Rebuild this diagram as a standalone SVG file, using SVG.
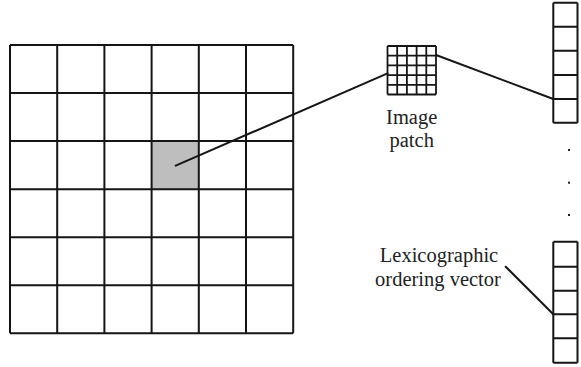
<svg xmlns="http://www.w3.org/2000/svg" width="581" height="367" viewBox="0 0 581 367">
  <style>
    .grid { fill: none; stroke: #151515; stroke-width: 2; }
    .fine { fill: none; stroke: #151515; stroke-width: 1.8; }
    .link { fill: none; stroke: #151515; stroke-width: 2; stroke-linecap: round; }
    .label { font-family: "Liberation Serif", "Times New Roman", serif; font-size: 20.5px; fill: #222; text-anchor: middle; }
    .dot { fill: #222; }
  </style>
  <rect width="581" height="367" fill="#ffffff"/>

  <!-- Full image: 6 x 6 grid with one highlighted pixel block -->
  <g id="image">
    <rect x="151.6" y="141.1" width="47.2" height="48.05" fill="#bebebe"/>
    <path class="grid" d="M10 45V333.3M57.2 45V333.3M104.4 45V333.3M151.6 45V333.3M198.8 45V333.3M246 45V333.3M293.2 45V333.3
      M10 45H293.2M10 93.05H293.2M10 141.1H293.2M10 189.15H293.2M10 237.2H293.2M10 285.25H293.2M10 333.3H293.2"/>
  </g>

  <!-- Patch: 5 x 5 grid -->
  <g id="patch">
    <path class="fine" d="M387.5 46V94.5M397.2 46V94.5M406.9 46V94.5M416.6 46V94.5M426.3 46V94.5M436 46V94.5
      M387.5 46H436M387.5 55.7H436M387.5 65.4H436M387.5 75.1H436M387.5 84.8H436M387.5 94.5H436"/>
    <text class="label" x="411.7" y="124">Image</text>
    <text class="label" x="411.7" y="147">patch</text>
  </g>

  <!-- Top part of the column vector -->
  <g id="vector-top">
    <path class="grid" d="M553.3 2.7V122.7M577.5 2.7V122.7
      M553.3 2.7H577.5M553.3 26.7H577.5M553.3 50.7H577.5M553.3 75H577.5M553.3 99H577.5M553.3 122.7H577.5"/>
  </g>

  <!-- Vertical ellipsis -->
  <g id="ellipsis">
    <rect class="dot" x="568" y="149" width="2" height="2"/>
    <rect class="dot" x="568" y="181.7" width="2" height="2"/>
    <rect class="dot" x="568" y="214" width="2" height="2"/>
  </g>

  <!-- Bottom part of the column vector -->
  <g id="vector-bottom">
    <path class="grid" d="M553.3 241.7V362.7M577.5 241.7V362.7
      M553.3 241.7H577.5M553.3 266.7H577.5M553.3 290.7H577.5M553.3 314.3H577.5M553.3 338.3H577.5M553.3 362.7H577.5"/>
    <text class="label" x="439" y="261.7">Lexicographic</text>
    <text class="label" x="438" y="285.7">ordering vector</text>
  </g>

  <!-- Connectors -->
  <g id="connectors">
    <line class="link" x1="175.7" y1="165.7" x2="387.5" y2="73.3"/>
    <line class="link" x1="436" y1="55" x2="553.3" y2="99"/>
    <line class="link" x1="505.7" y1="266.7" x2="553.3" y2="314.3"/>
  </g>
</svg>
